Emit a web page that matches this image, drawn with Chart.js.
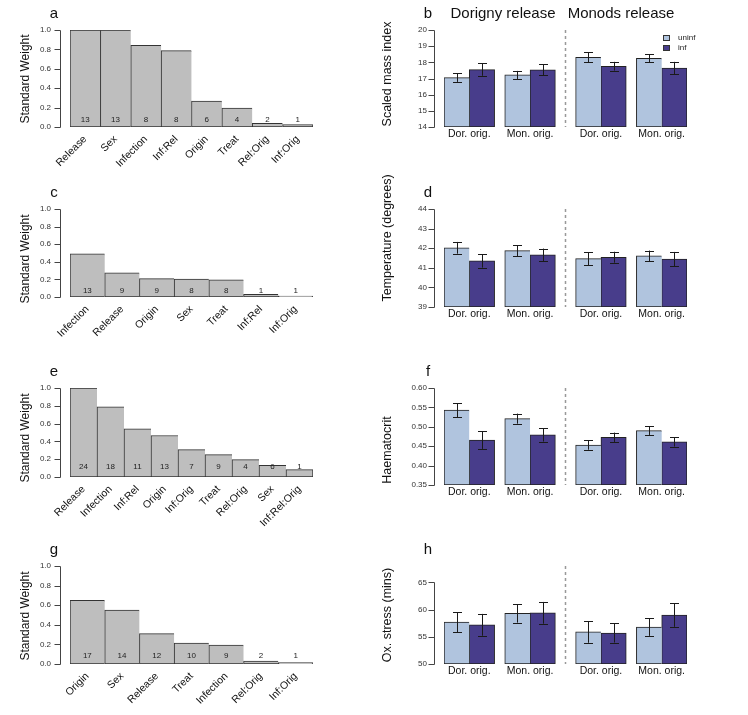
<!DOCTYPE html>
<html lang="en">
<head>
<meta charset="UTF-8">
<title>Standard weights and condition by release site</title>
<script src="https://cdn.jsdelivr.net/npm/chart.js"></script>
<style>
  body { margin: 0; background: #fff; }
  #fig { position: relative; width: 748px; height: 715px; }
  #fig canvas { position: absolute; }
</style>
</head>
<body>
<div id="fig"></div>
<script>
// ---- left column: standard weights of model terms ----
const termsA = ['Release', 'Sex', 'Infection', 'Inf:Rel', 'Origin', 'Treat', 'Rel:Orig', 'Inf:Orig'];
const weightsA = [1.0, 1.0, 0.842, 0.788, 0.267, 0.195, 0.038, 0.024];
const countsA = [13, 13, 8, 8, 6, 4, 2, 1];

const termsC = ['Infection', 'Release', 'Origin', 'Sex', 'Treat', 'Inf:Rel', 'Inf:Orig'];
const weightsC = [0.49, 0.275, 0.208, 0.205, 0.196, 0.03, 0.011];
const countsC = [13, 9, 9, 8, 8, 1, 1];

const termsE = ['Release', 'Infection', 'Inf:Rel', 'Origin', 'Inf:Orig', 'Treat', 'Rel:Orig', 'Sex', 'Inf:Rel:Orig'];
const weightsE = [1.0, 0.789, 0.541, 0.466, 0.308, 0.252, 0.195, 0.132, 0.083];
const countsE = [24, 18, 11, 13, 7, 9, 4, 6, 1];

const termsG = ['Origin', 'Sex', 'Release', 'Treat', 'Infection', 'Rel:Orig', 'Inf:Orig'];
const weightsG = [0.65, 0.551, 0.31, 0.214, 0.194, 0.031, 0.014];
const countsG = [17, 14, 12, 10, 9, 2, 1];

const weightTicks = [0, 0.2, 0.4, 0.6, 0.8, 1.0];

// ---- right column: means +/- SE (Dorigny release: Dor, Mon; Monods release: Dor, Mon) ----
const groups = ['Dor. orig.', 'Mon. orig.', 'Dor. orig.', 'Mon. orig.'];
const sites = ['Dorigny release', 'Monods release'];
const seriesNames = ['uninf', 'inf'];

const massUninf = [17.05, 17.22, 18.31, 18.25];
const massUninfSE = [0.26, 0.25, 0.30, 0.24];
const massInf = [17.55, 17.53, 17.76, 17.65];
const massInfSE = [0.38, 0.34, 0.27, 0.38];
const massTicks = [14, 15, 16, 17, 18, 19, 20];

const tempUninf = [42.02, 41.88, 41.47, 41.61];
const tempUninfSE = [0.30, 0.28, 0.33, 0.27];
const tempInf = [41.35, 41.66, 41.54, 41.44];
const tempInfSE = [0.34, 0.32, 0.28, 0.37];
const tempTicks = [39, 40, 41, 42, 43, 44];

const hctUninf = [0.543, 0.521, 0.453, 0.490];
const hctUninfSE = [0.018, 0.013, 0.012, 0.011];
const hctInf = [0.466, 0.479, 0.473, 0.461];
const hctInfSE = [0.023, 0.017, 0.012, 0.012];
const hctTicks = [0.35, 0.40, 0.45, 0.50, 0.55, 0.60];

const oxUninf = [57.7, 59.3, 55.9, 56.8];
const oxUninfSE = [1.85, 1.70, 2.00, 1.63];
const oxInf = [57.2, 59.4, 55.7, 59.0];
const oxInfSE = [2.00, 2.00, 1.76, 2.17];
const oxTicks = [50, 55, 60, 65];

const FONT = "'Liberation Sans', Arial, Helvetica, sans-serif";
const W = 374;
const AREA_L = 70, AREA_R = 313;
const UNINF = '#b0c4de', INF = '#483d8b';

const fig = document.getElementById('fig');

// panels below the first row get a little headroom so long titles are not cut
function place(p) {
  const ext = p.y0 > 0 ? 12 : 0;
  const q = { ...p, top: p.top + ext, bottom: p.bottom + ext, titleY: p.titleY + ext, h: p.h + ext };
  const c = document.createElement('canvas');
  c.width = W; c.height = q.h;
  c.style.left = (p.col * W) + 'px'; c.style.top = (p.y0 - ext) + 'px';
  fig.appendChild(c);
  return [c, q];
}

// R style frame: y axis from first to last tick, panel letter, y title
function drawFrame(chart, p) {
  const ctx = chart.ctx, ca = chart.chartArea, y = chart.scales.y;
  const ax = ca.left - 10 + 0.5;
  ctx.save();
  ctx.strokeStyle = '#444';
  ctx.lineWidth = 1;
  ctx.beginPath();
  ctx.moveTo(ax, Math.round(y.getPixelForValue(p.ticks[0])) + 0.5);
  ctx.lineTo(ax, Math.round(y.getPixelForValue(p.ticks[p.ticks.length - 1])) + 0.5);
  p.ticks.forEach(t => {
    const py = Math.round(y.getPixelForValue(t)) + 0.5;
    ctx.moveTo(ax, py);
    ctx.lineTo(ax - 6, py);
  });
  ctx.stroke();

  ctx.fillStyle = '#111';
  ctx.font = `15px ${FONT}`;
  ctx.textAlign = 'center';
  ctx.textBaseline = 'alphabetic';
  ctx.fillText(p.letter, 54, ca.top - 12);

  ctx.translate(p.titleX, p.titleY);
  ctx.rotate(-Math.PI / 2);
  ctx.font = `${p.titleSize}px ${FONT}`;
  ctx.textBaseline = 'middle';
  ctx.fillText(p.title, 0, 0);
  ctx.restore();
}

function yScale(p) {
  return {
    min: p.min, max: p.max,
    afterFit: s => { s.width = AREA_L; },
    afterBuildTicks: s => { s.ticks = p.ticks.map(v => ({ value: v })); },
    grid: { display: false, drawTicks: false },
    border: { display: false },
    ticks: {
      padding: p.tickPad, color: '#333', autoSkip: false,
      font: { family: FONT, size: 8 },
      callback: v => v.toFixed(p.dec)
    }
  };
}

function common(p) {
  return {
    responsive: false, animation: false, devicePixelRatio: 1,
    layout: { padding: { top: p.top, right: W - AREA_R, left: 0, bottom: 0 } },
    plugins: { legend: { display: false }, tooltip: { enabled: false } }
  };
}

function leftPanel(p0, terms, weights, counts) {
  const [canvas, p] = place({ ...p0, col: 0 });
  const plug = {
    id: 'left' + p.letter,
    afterDatasetsDraw(chart) {
      const ctx = chart.ctx, y = chart.scales.y;
      ctx.save();
      ctx.fillStyle = '#222';
      ctx.font = `8px ${FONT}`;
      ctx.textAlign = 'center';
      ctx.textBaseline = 'middle';
      chart.getDatasetMeta(0).data.forEach((bar, i) => {
        ctx.fillText(String(counts[i]), bar.x, y.getPixelForValue(p.countAt));
      });
      ctx.restore();
    },
    afterDraw(chart) { drawFrame(chart, p); }
  };
  const opts = common(p);
  opts.scales = {
    y: yScale(p),
    x: {
      offset: true,
      afterFit: s => { s.height = p.h - p.bottom; },
      grid: { display: false, drawTicks: false },
      border: { display: false },
      ticks: {
        autoSkip: false, minRotation: 45, maxRotation: 45, padding: 6,
        color: '#111', font: { family: FONT, size: 10.5 }
      }
    }
  };
  const last = terms.length - 1;
  new Chart(canvas, {
    type: 'bar',
    data: {
      labels: terms,
      datasets: [{
        data: weights, backgroundColor: '#bebebe', borderColor: '#333',
        // neighbouring bars share a single 1px edge
        borderWidth: c => ({ left: 1, top: 1, bottom: 1, right: c.dataIndex === last ? 1 : 0 }),
        borderSkipped: false, barPercentage: 1, categoryPercentage: 1
      }]
    },
    options: opts,
    plugins: [plug]
  });
}

// group centres in bar-width units: pairs of bars, small gap within a release site, wider gap between sites
const PAIR_GAP = 0.4, SITE_GAP = 0.8;
const groupCentres = [];
let xEnd = 0;
groups.forEach((g, i) => {
  if (i > 0) xEnd += (i === 2 ? SITE_GAP : PAIR_GAP);
  groupCentres.push(xEnd + 1);
  xEnd += 2;
});
const siteDivide = (groupCentres[1] + groupCentres[2]) / 2;

function rightPanel(p0, uninf, uninfSE, inf, infSE) {
  const [canvas, p] = place({ ...p0, col: 1 });
  const se = [uninfSE, infSE];
  const plug = {
    id: 'right' + p.letter,
    afterDatasetsDraw(chart) {
      const ctx = chart.ctx, y = chart.scales.y, x = chart.scales.x, ca = chart.chartArea;
      ctx.save();
      // error bars
      ctx.strokeStyle = '#1a1a1a';
      ctx.lineWidth = 1;
      [uninf, inf].forEach((vals, d) => {
        chart.getDatasetMeta(d).data.forEach((bar, i) => {
          const cx = Math.round(bar.x) + 0.5;
          const hi = y.getPixelForValue(vals[i] + se[d][i]);
          const lo = y.getPixelForValue(vals[i] - se[d][i]);
          ctx.beginPath();
          ctx.moveTo(cx, hi); ctx.lineTo(cx, lo);
          ctx.moveTo(cx - 4.5, Math.round(hi) + 0.5); ctx.lineTo(cx + 4.5, Math.round(hi) + 0.5);
          ctx.moveTo(cx - 4.5, Math.round(lo) + 0.5); ctx.lineTo(cx + 4.5, Math.round(lo) + 0.5);
          ctx.stroke();
        });
      });
      // site divider
      const dx = Math.round(x.getPixelForValue(siteDivide)) + 0.5;
      ctx.strokeStyle = '#999';
      ctx.lineWidth = 1.5;
      ctx.setLineDash([3, 3]);
      ctx.beginPath();
      ctx.moveTo(dx, ca.top); ctx.lineTo(dx, ca.bottom);
      ctx.stroke();
      ctx.setLineDash([]);
      if (p.header) {
        ctx.fillStyle = '#111';
        ctx.font = `15px ${FONT}`;
        ctx.textAlign = 'center';
        ctx.textBaseline = 'alphabetic';
        ctx.fillText(sites[0], 129, ca.top - 12);
        ctx.fillText(sites[1], 247, ca.top - 12);
        // legend
        ctx.font = `8px ${FONT}`;
        ctx.textAlign = 'left';
        ctx.textBaseline = 'middle';
        [UNINF, INF].forEach((col, k) => {
          const ly = ca.top + 8 + k * 10;
          ctx.fillStyle = col;
          ctx.fillRect(289, ly - 3, 7, 6);
          ctx.strokeStyle = '#333';
          ctx.lineWidth = 1;
          ctx.strokeRect(289.5, ly - 2.5, 6, 5);
          ctx.fillStyle = '#222';
          ctx.fillText(seriesNames[k], 304, ly);
        });
      }
      ctx.restore();
    },
    afterDraw(chart) { drawFrame(chart, p); }
  };
  const opts = common(p);
  opts.scales = {
    y: yScale(p),
    x: {
      type: 'linear', offset: false, min: 0, max: xEnd,
      afterFit: s => { s.height = p.h - p.bottom; },
      afterBuildTicks: s => { s.ticks = groupCentres.map(v => ({ value: v })); },
      grid: { display: false, drawTicks: false },
      border: { display: false },
      ticks: {
        autoSkip: false, maxRotation: 0, padding: 1,
        color: '#111', font: { family: FONT, size: 10.5 },
        callback: (v, i) => groups[i]
      }
    }
  };
  const ds = (vals, off, col, name, bw) => ({
    label: name,
    data: vals.map((v, i) => ({ x: groupCentres[i] + off, y: v })),
    backgroundColor: col, borderColor: '#222', borderWidth: bw, borderSkipped: false,
    base: p.min, grouped: false, barPercentage: 1, categoryPercentage: 1
  });
  new Chart(canvas, {
    type: 'bar',
    data: {
      datasets: [
        ds(uninf, -0.5, UNINF, seriesNames[0], { left: 1, top: 1, bottom: 1, right: 0 }),
        ds(inf, 0.5, INF, seriesNames[1], 1)
      ]
    },
    options: opts,
    plugins: [plug]
  });
}

const sw = { title: 'Standard Weight', titleX: 26, titleSize: 12, min: 0, max: 1, ticks: weightTicks, dec: 1, tickPad: 19 };
leftPanel({ ...sw, letter: 'a', y0: 0, h: 180, top: 30, bottom: 127, titleY: 79, countAt: 0.074 }, termsA, weightsA, countsA);
leftPanel({ ...sw, letter: 'c', y0: 180, h: 180, top: 29, bottom: 117, titleY: 79, countAt: 0.072 }, termsC, weightsC, countsC);
leftPanel({ ...sw, letter: 'e', y0: 360, h: 180, top: 28, bottom: 117, titleY: 78, countAt: 0.11 }, termsE, weightsE, countsE);
leftPanel({ ...sw, letter: 'g', y0: 540, h: 175, top: 26, bottom: 124, titleY: 76, countAt: 0.088 }, termsG, weightsG, countsG);

const rt = { titleX: 14, titleSize: 12.5, tickPad: 17 };
rightPanel({ ...rt, letter: 'b', header: true, y0: 0, h: 180, top: 30, bottom: 127, title: 'Scaled mass index', titleY: 74, min: 14, max: 20, ticks: massTicks, dec: 0 },
  massUninf, massUninfSE, massInf, massInfSE);
rightPanel({ ...rt, letter: 'd', y0: 180, h: 180, top: 29, bottom: 127, title: 'Temperature (degrees)', titleY: 58, min: 39, max: 44, ticks: tempTicks, dec: 0 },
  tempUninf, tempUninfSE, tempInf, tempInfSE);
rightPanel({ ...rt, letter: 'f', y0: 360, h: 180, top: 28, bottom: 125, title: 'Haematocrit', titleY: 90, min: 0.35, max: 0.60, ticks: hctTicks, dec: 2 },
  hctUninf, hctUninfSE, hctInf, hctInfSE);
rightPanel({ ...rt, letter: 'h', y0: 540, h: 175, top: 26, bottom: 124, title: 'Ox. stress (mins)', titleY: 75, min: 50, max: 68, ticks: oxTicks, dec: 0 },
  oxUninf, oxUninfSE, oxInf, oxInfSE);
</script>
</body>
</html>
